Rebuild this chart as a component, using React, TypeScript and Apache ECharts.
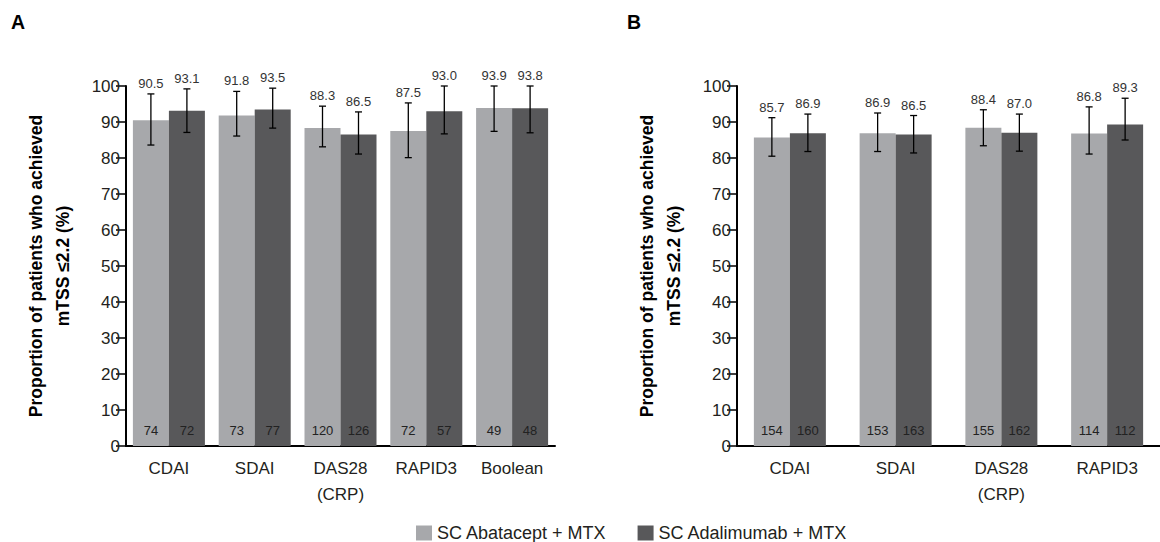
import React, { useEffect, useRef } from "react";
import * as echarts from "echarts";

const FONT = "Liberation Sans, Arial, Helvetica, sans-serif";
const LIGHT = "#a7a8ab";
const DARK = "#58585a";
const TEXT = "#231f20";
const BAR_W = 36;

const seriesNames = ["SC Abatacept + MTX", "SC Adalimumab + MTX"];

// Panel A
const categoriesA = ["CDAI", "SDAI", "DAS28\n(CRP)", "RAPID3", "Boolean"];
const abaA = [90.5, 91.8, 88.3, 87.5, 93.9];
const adaA = [93.1, 93.5, 86.5, 93.0, 93.8];
const abaLowA = [83.6, 86.1, 83.1, 80.1, 87.4];
const abaHighA = [97.8, 98.5, 94.4, 95.3, 100];
const adaLowA = [87.1, 88.3, 81.1, 86.7, 87.0];
const adaHighA = [99.2, 99.4, 92.8, 100, 100];
const nAbaA = [74, 73, 120, 72, 49];
const nAdaA = [72, 77, 126, 57, 48];

// Panel B
const categoriesB = ["CDAI", "SDAI", "DAS28\n(CRP)", "RAPID3"];
const abaB = [85.7, 86.9, 88.4, 86.8];
const adaB = [86.9, 86.5, 87.0, 89.3];
const abaLowB = [80.5, 81.8, 83.4, 81.1];
const abaHighB = [91.2, 92.5, 93.4, 94.2];
const adaLowB = [81.8, 81.4, 81.9, 85.0];
const adaHighB = [92.2, 91.8, 92.2, 96.6];
const nAbaB = [154, 153, 155, 114];
const nAdaB = [160, 163, 162, 112];

const yTicks = { min: 0, max: 100, interval: 10 };
const yName = "Proportion of patients who achieved\nmTSS ≤2.2 (%)";

function barSeries(name: string, idx: number, values: number[], ns: number[], color: string) {
  return {
    name,
    type: "bar",
    xAxisIndex: idx,
    yAxisIndex: idx,
    data: values,
    barWidth: BAR_W,
    barGap: "0%",
    itemStyle: { color },
    label: {
      show: true,
      position: "insideBottom",
      distance: 9,
      formatter: (p: any) => String(ns[p.dataIndex]),
      fontFamily: FONT,
      fontSize: 13,
      color: "#222",
    },
  };
}

function errSeries(idx: number, lows: number[], highs: number[], values: number[], offset: number) {
  return {
    type: "custom",
    xAxisIndex: idx,
    yAxisIndex: idx,
    data: values.map((v, i) => [i, lows[i], highs[i], v]),
    encode: { x: 0, y: [1, 2] },
    z: 5,
    renderItem: (params: any, api: any) => {
      const i = api.value(0);
      const lo = api.value(1);
      const hi = api.value(2);
      const v = api.value(3);
      const pHi = api.coord([i, hi]);
      const pLo = api.coord([i, lo]);
      const x = pHi[0] + offset;
      const cap = 3.5;
      const st = { stroke: "#000", lineWidth: 1.3 };
      return {
        type: "group",
        children: [
          { type: "line", shape: { x1: x, y1: pHi[1], x2: x, y2: pLo[1] }, style: st },
          { type: "line", shape: { x1: x - cap, y1: pHi[1], x2: x + cap, y2: pHi[1] }, style: st },
          { type: "line", shape: { x1: x - cap, y1: pLo[1], x2: x + cap, y2: pLo[1] }, style: st },
          {
            type: "text",
            x,
            y: pHi[1] - 4,
            style: {
              text: Number(v).toFixed(1),
              align: "center",
              verticalAlign: "bottom",
              fontFamily: FONT,
              fontSize: 13,
              fill: "#333",
            },
          },
        ],
      };
    },
  };
}

function xAxisCfg(idx: number, cats: string[]) {
  return {
    type: "category",
    gridIndex: idx,
    data: cats,
    axisLine: { show: true, lineStyle: { color: "#000", width: 2 } },
    axisTick: { show: false },
    axisLabel: {
      interval: 0,
      fontFamily: FONT,
      fontSize: 17,
      color: TEXT,
      margin: 9,
      lineHeight: 26,
    },
  };
}

function yAxisCfg(idx: number) {
  return {
    type: "value",
    gridIndex: idx,
    min: yTicks.min,
    max: yTicks.max,
    interval: yTicks.interval,
    splitLine: { show: false },
    axisLine: { show: true, lineStyle: { color: "#000", width: 2 } },
    axisTick: { show: true, length: 10, lineStyle: { color: "#000", width: 1.5 } },
    axisLabel: { fontFamily: FONT, fontSize: 17, color: TEXT, margin: 6 },
    name: yName,
    nameLocation: "middle",
    nameGap: 50,
    nameTextStyle: {
      fontFamily: FONT,
      fontWeight: "bold",
      fontSize: 17.5,
      lineHeight: 27,
      color: "#000",
    },
  };
}

export default function App() {
  const ref = useRef<HTMLDivElement>(null);
  useEffect(() => {
    document.body.style.margin = "0";
    if (!ref.current) return;
    const chart = echarts.init(ref.current, undefined, { renderer: "svg" });
    chart.setOption({
      animation: false,
      backgroundColor: "#fff",
      textStyle: { fontFamily: FONT },
      grid: [
        { left: 126, width: 429, top: 86, bottom: 96 },
        { left: 737, width: 439, top: 86, bottom: 96 },
      ],
      xAxis: [xAxisCfg(0, categoriesA), xAxisCfg(1, categoriesB)],
      yAxis: [yAxisCfg(0), yAxisCfg(1)],
      legend: {
        data: seriesNames,
        left: 416,
        top: 524,
        icon: "rect",
        itemWidth: 16,
        itemHeight: 15,
        itemGap: 31,
        padding: 0,
        textStyle: { fontFamily: FONT, fontSize: 18, color: TEXT },
      },
      graphic: [
        { type: "text", left: 11, top: 12, style: { text: "A", fontFamily: FONT, fontWeight: "bold", fontSize: 19.5, fill: "#000" } },
        { type: "text", left: 627, top: 12, style: { text: "B", fontFamily: FONT, fontWeight: "bold", fontSize: 19.5, fill: "#000" } },
      ],
      series: [
        barSeries(seriesNames[0], 0, abaA, nAbaA, LIGHT),
        barSeries(seriesNames[1], 0, adaA, nAdaA, DARK),
        barSeries(seriesNames[0], 1, abaB, nAbaB, LIGHT),
        barSeries(seriesNames[1], 1, adaB, nAdaB, DARK),
        errSeries(0, abaLowA, abaHighA, abaA, -BAR_W / 2),
        errSeries(0, adaLowA, adaHighA, adaA, BAR_W / 2),
        errSeries(1, abaLowB, abaHighB, abaB, -BAR_W / 2),
        errSeries(1, adaLowB, adaHighB, adaB, BAR_W / 2),
      ],
    });
    return () => chart.dispose();
  }, []);
  return <div ref={ref} style={{ width: 1160, height: 542 }} />;
}
